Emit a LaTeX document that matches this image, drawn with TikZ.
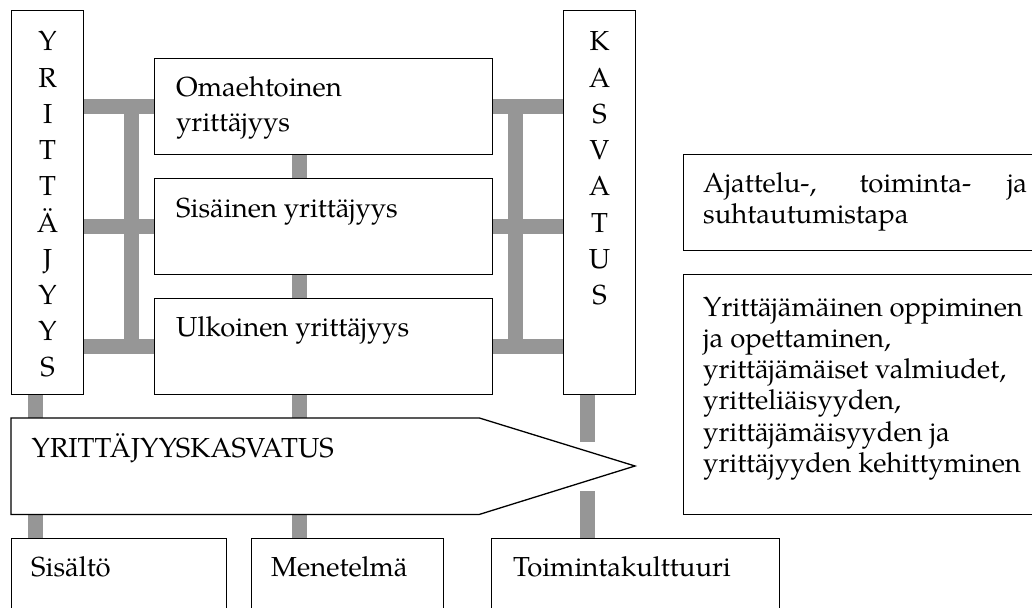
\documentclass[tikz,border=0pt]{standalone}
\usepackage{fontspec}
\setmainfont{texgyrepagella-regular.otf}
\usetikzlibrary{calc,backgrounds}
\definecolor{bargray}{RGB}{150,150,150}
\tikzset{
  box/.style={draw=black, line width=1.3pt, fill=white, inner sep=0pt, anchor=north west},
  bar/.style={draw=bargray, line width=15pt},
  txt/.style={anchor=base west, inner sep=0pt, font=\fontsize{27.5}{32}\selectfont},
  vtxt/.style={anchor=base, inner sep=0pt, font=\fontsize{27.5}{32}\selectfont},
  outline/.style={draw=black, line width=1.3pt, fill=white},
}
\begin{document}
\begin{tikzpicture}[x=1pt,y=-1pt]
\useasboundingbox (0,0) rectangle (1032,607);
\begin{scope}
\clip (0,0) rectangle (1032,607);
% side boxes
\node[box, minimum width=72, minimum height=384] (yr) at (11,10) {};
\foreach \l [count=\i from 0] in {Y,R,I,T,T,Ä,J,Y,Y,S}
  \node[vtxt] (yl\i) at ($(yr.north)+(0,41+36.2*\i)$) {\l};
\node[box, minimum width=72, minimum height=384] (ka) at (563,10) {};
\foreach \l [count=\i from 0] in {K,A,S,V,A,T,U,S}
  \node[vtxt] (kl\i) at ($(ka.north)+(0,41+36.2*\i)$) {\l};
% centre boxes
\node[box, minimum width=338, minimum height=96] (om) at (154,58) {};
\node[box, minimum width=338, minimum height=96] (si) at (154,178) {};
\node[box, minimum width=338, minimum height=96] (ul) at (154,298) {};
\node[txt] (omt1) at ($(om.north west)+(22,39)$) {Omaehtoinen};
\node[txt] (omt2) at ($(om.north west)+(22,73.5)$) {yrittäjyys};
\node[txt] (sit) at ($(si.north west)+(22,39)$) {Sisäinen yrittäjyys};
\node[txt] (ult) at ($(ul.north west)+(22,38.5)$) {Ulkoinen yrittäjyys};
% right boxes
\node[box, minimum width=362, minimum height=96] (aj) at (683,154) {};
\node[txt] (ajt1) at ($(aj.north west)+(20,38.5)$) {\makebox[324pt][s]{Ajattelu-, toiminta- ja}};
\node[txt] (ajt2) at ($(aj.north west)+(20,69.5)$) {suhtautumistapa};
\node[box, minimum width=362, minimum height=240] (ym) at (683,274) {};
\foreach \t [count=\i from 0] in {Yrittäjämäinen oppiminen,{ja opettaminen,},{yrittäjämäiset valmiudet,},{yritteliäisyyden,},yrittäjämäisyyden ja,yrittäjyyden kehittyminen}
  \node[txt] (ymt\i) at ($(ym.north west)+(20,42+31.3*\i)$) {\t};
% arrow
\node[inner sep=0pt, minimum width=468, minimum height=96, anchor=north west] (arr) at (11,418) {};
\coordinate (tip) at (635,466);
\draw[outline] (arr.north west) -- (arr.north east) -- (tip) -- (arr.south east) -- (arr.south west) -- cycle;
\node[txt] (arrt) at ($(arr.north west)+(20.5,39)$) {YRITTÄJYYSKASVATUS};
% bottom boxes
\node[box, minimum width=215, minimum height=100] (sis) at (11,538) {};
\node[box, minimum width=192, minimum height=100] (me) at (251,538) {};
\node[box, minimum width=288, minimum height=100] (to) at (491,538) {};
\node[txt] (sist) at ($(sis.north west)+(20,38)$) {Sisältö};
\node[txt] (met) at ($(me.north west)+(20,38)$) {Menetelmä};
\node[txt] (tot) at ($(to.north west)+(22,38)$) {Toimintakulttuuri};
\end{scope}
% connectors
\coordinate (lx) at (131.5,0);
\coordinate (rx) at (515.5,0);
\coordinate (cx) at (299.5,0);
\coordinate (bx) at (35.5,0);
\coordinate (kx) at (587,0);
\coordinate (kt) at (587,442);
\coordinate (kb) at (587,491);
\begin{scope}[on background layer]
\draw[bar] (yr.east |- om.west) -- (om.west);
\draw[bar] (yr.east |- si.west) -- (si.west);
\draw[bar] (yr.east |- ul.west) -- (ul.west);
\draw[bar] (lx |- om.west) -- (lx |- ul.west);
\draw[bar] (om.east) -- (ka.west |- om.east);
\draw[bar] (si.east) -- (ka.west |- si.east);
\draw[bar] (ul.east) -- (ka.west |- ul.east);
\draw[bar] (rx |- om.east) -- (rx |- ul.east);
\draw[bar] (cx |- om.south) -- (cx |- si.north);
\draw[bar] (cx |- si.south) -- (cx |- ul.north);
\draw[bar] (cx |- ul.south) -- (cx |- arr.north);
\draw[bar] (cx |- arr.south) -- (cx |- me.north);
\draw[bar] (bx |- yr.south) -- (bx |- arr.north);
\draw[bar] (bx |- arr.south) -- (bx |- sis.north);
\draw[bar] (kx |- ka.south) -- (kt);
\draw[bar] (kb) -- (kx |- to.north);
\end{scope}
\end{tikzpicture}
\end{document}
